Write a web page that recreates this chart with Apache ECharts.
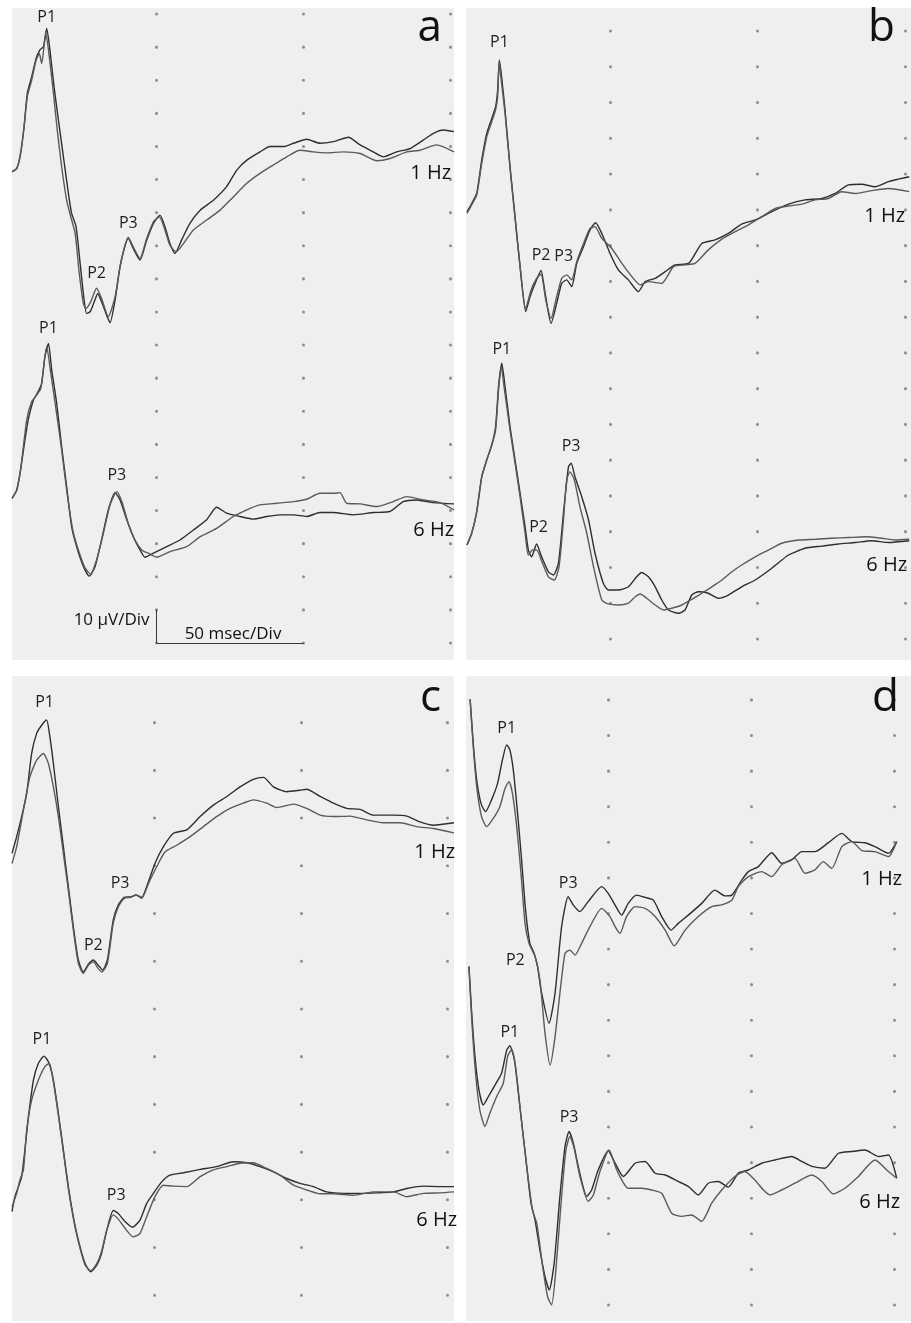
<!DOCTYPE html>
<html>
<head>
<meta charset="utf-8">
<script src="https://cdn.jsdelivr.net/npm/echarts@6/dist/echarts.min.js"></script>
<style>
html,body{margin:0;padding:0;background:#ffffff;}
#chart{width:911px;height:1323px;}
</style>
</head>
<body>
<div id="chart"></div>
<script>
// ===== DATA: [time (ms), amplitude (µV)] read from the recordings =====
// Panel a
const a1Hz_1 = [[0.7,0],[2.3,1.0],[3.6,5.5],[4.8,13.6],[5.9,23.7],[7.4,28.7],[8.9,34.2],[10.2,36.8],[11.4,37.8],[12.5,43.3],[13.6,36.8],[15.0,25.7],[16.5,15.6],[18.2,4.5],[19.9,-6.5],[21.0,-12.6],[22.5,-16.6],[23.9,-27.7],[25.0,-36.8],[26.1,-42.8],[27.3,-42.3],[28.7,-39.3],[29.9,-36.8],[31.2,-39.3],[32.7,-42.8],[34.1,-45.6],[35.8,-38.8],[37.5,-28.7],[38.9,-23.2],[40.3,-20.1],[42.0,-23.2],[44.3,-26.7],[46.6,-20.6],[48.9,-15.6],[51.1,-13.1],[52.8,-16.6],[54.5,-21.7],[56.2,-24.7],[58.5,-20.6],[61.3,-15.6],[64.8,-11.6],[69.3,-8.6],[73.8,-4.5],[77.3,0.5],[80.7,3.5],[85.2,6.0],[88.6,7.6],[93.2,7.6],[96.6,8.6],[101.1,9.8],[105.6,8.6],[110.2,9.1],[115.3,10.4],[119.3,8.1],[123.8,6.0],[127.2,4.5],[131.8,6.0],[136.3,7.0],[140.9,9.6],[144.3,11.6],[147.7,12.6],[151.3,12.1]];
const a1Hz_2 = [[0.7,0],[2.3,1.0],[3.6,5.5],[4.8,13.6],[5.9,22.7],[7.4,27.7],[8.9,33.7],[10.0,35.7],[10.8,32.7],[12.2,41.8],[13.4,34.7],[14.8,23.7],[16.1,12.6],[17.6,1.5],[19.3,-8.6],[20.7,-13.6],[22.2,-18.6],[23.6,-30.7],[25.0,-39.8],[25.9,-41.3],[27.5,-39.3],[29.5,-35.2],[31.2,-38.3],[33.5,-43.8],[35.8,-37.8],[37.5,-28.7],[40.3,-19.8],[42.0,-22.7],[44.3,-26.2],[46.6,-20.1],[48.9,-15.1],[50.9,-13.6],[52.8,-17.6],[54.5,-22.2],[56.6,-24.2],[59.1,-21.7],[62.5,-17.6],[67.0,-14.6],[71.6,-11.6],[76.1,-7.6],[80.7,-3.5],[85.2,-0.5],[89.7,2.0],[94.3,4.5],[98.8,6.5],[103.4,6.0],[107.9,5.7],[113.6,6.0],[119.3,5.5],[125.0,3.3],[129.5,4.0],[135.2,6.0],[139.7,6.5],[145.4,8.1],[151.3,6.0]];
const a6Hz_1 = [[0.7,0],[2.3,2.5],[3.6,8.6],[5.1,17.6],[6.2,23.7],[8.0,29.7],[9.6,32.2],[10.8,34.7],[11.9,42.8],[13.1,46.8],[14.2,38.8],[15.9,28.7],[17.6,15.6],[19.3,3.5],[21.0,-8.6],[22.7,-14.6],[25.0,-20.6],[27.0,-23.5],[29.0,-20.6],[31.2,-12.6],[33.5,-3.5],[35.8,1.7],[37.5,-0.5],[39.8,-6.5],[42.0,-11.6],[44.3,-15.6],[46.0,-17.8],[48.9,-16.6],[53.4,-14.6],[57.9,-12.6],[62.5,-9.6],[67.0,-6.5],[70.4,-2.7],[73.8,-4.5],[78.4,-5.5],[82.9,-6.3],[87.5,-5.5],[92.0,-5.0],[96.6,-5.0],[101.1,-5.5],[105.6,-4.3],[110.2,-4.3],[117.0,-5.0],[123.8,-4.3],[129.5,-4.0],[134.0,-1.0],[138.6,-0.5],[144.3,-1.3],[151.3,-1.7]];
const a6Hz_2 = [[0.7,0],[2.3,2.5],[3.6,8.6],[5.7,23.7],[7.4,29.2],[9.1,31.2],[10.5,33.2],[12.5,45.8],[13.9,37.8],[15.7,26.7],[17.6,14.6],[19.3,2.5],[21.4,-9.6],[23.3,-15.6],[25.6,-21.1],[27.5,-22.9],[29.5,-18.6],[31.8,-10.6],[34.1,-2.0],[36.4,2.0],[38.1,-1.0],[40.3,-7.6],[42.6,-12.6],[44.9,-15.6],[47.1,-16.6],[50.0,-17.8],[54.5,-16.1],[60.2,-14.6],[64.8,-11.6],[70.4,-9.1],[76.1,-5.5],[80.7,-3.5],[85.2,-2.0],[90.9,-1.5],[96.6,-1.0],[101.1,-0.3],[105.6,1.5],[110.2,1.5],[112.5,1.7],[114.7,-1.5],[119.3,-1.7],[125.0,-2.5],[130.6,-1.0],[135.2,0.5],[140.9,-0.5],[146.5,-1.3],[151.3,-3.5]];
// Panel b
const b1Hz_1 = [[1.5,0],[3.1,2.3],[4.8,5.1],[6.5,14.5],[8.2,21.9],[9.9,26.1],[11.2,29.4],[11.9,34.1],[12.5,42.5],[13.3,37.3],[14.4,28.5],[16.1,12.6],[17.8,-1.4],[19.5,-15.4],[21.4,-28.0],[22.9,-23.8],[25.1,-19.1],[26.6,-16.5],[28.0,-22.9],[30.0,-31.3],[31.9,-25.7],[33.6,-20.1],[35.3,-19.1],[37.0,-21.0],[38.7,-14.5],[41.0,-9.8],[43.2,-5.1],[45.1,-3.1],[47.2,-6.1],[50.0,-11.7],[52.8,-16.3],[56.2,-19.1],[59.6,-22.4],[61.9,-19.6],[65.3,-18.7],[68.7,-16.8],[72.0,-14.9],[76.6,-14.5],[81.1,-8.9],[85.6,-7.9],[90.1,-6.1],[94.6,-3.5],[99.2,-2.3],[104.8,0],[110.5,2.1],[116.1,3.3],[121.8,3.7],[126.3,5.1],[130.8,7.5],[135.3,7.7],[139.8,7.0],[144.4,8.4],[147.7,9.1],[151.4,9.8]];
const b1Hz_2 = [[1.5,-0.5],[3.1,1.9],[4.8,4.7],[6.5,13.5],[8.2,21.0],[9.9,25.2],[11.2,28.5],[11.9,32.2],[12.4,42.0],[13.1,36.9],[14.4,27.5],[16.1,12.1],[17.8,-1.9],[19.5,-15.4],[21.4,-27.1],[23.2,-22.0],[25.1,-18.7],[26.6,-17.5],[28.2,-24.7],[30.0,-29.9],[31.9,-23.8],[33.6,-18.7],[35.3,-17.7],[37.0,-19.1],[38.7,-14.0],[41.0,-8.9],[43.2,-4.7],[44.9,-4.2],[47.2,-7.5],[50.6,-10.3],[54.0,-14.5],[57.4,-18.2],[60.2,-20.5],[63.0,-19.6],[67.5,-20.1],[71.5,-15.4],[75.4,-14.9],[78.8,-14.5],[83.3,-10.7],[87.9,-7.7],[92.4,-5.6],[96.9,-3.7],[101.4,-1.4],[106.0,0.9],[110.5,1.6],[115.0,2.1],[119.5,3.3],[124.0,3.7],[128.5,5.6],[133.1,5.1],[138.7,5.9],[144.4,6.5],[151.4,5.6]];
const b6Hz_1 = [[1.5,0],[3.1,3.3],[4.8,9.3],[6.5,19.1],[8.2,23.8],[9.9,28.0],[11.2,33.1],[12.2,44.4],[13.3,50.9],[14.4,44.4],[16.1,33.1],[17.8,23.8],[19.5,14.5],[21.2,5.1],[22.3,-1.4],[23.4,-3.3],[25.1,0.3],[26.8,-3.3],[29.1,-7.5],[30.8,-8.4],[32.5,-5.1],[34.2,8.9],[35.9,21.9],[36.8,22.9],[38.1,19.1],[40.4,13.5],[42.7,7.0],[44.9,-2.3],[47.7,-10.7],[49.4,-12.6],[52.8,-12.6],[56.2,-11.7],[59.0,-8.9],[60.7,-7.7],[63.0,-8.9],[65.3,-11.7],[67.5,-15.4],[69.8,-18.2],[73.2,-19.1],[75.4,-18.2],[77.7,-14.0],[80.0,-13.1],[83.3,-13.5],[86.7,-14.9],[90.1,-14.0],[94.6,-11.7],[99.2,-9.8],[104.8,-6.5],[110.5,-2.8],[116.1,-0.9],[121.8,-0.3],[127.4,0.3],[133.1,0.7],[138.7,1.2],[144.4,0.7],[151.4,1.2]];
const b6Hz_2 = [[1.5,0],[3.1,3.3],[4.8,9.3],[6.5,19.1],[8.2,23.8],[9.9,28.0],[11.2,32.2],[12.2,43.4],[13.1,50.0],[14.2,43.5],[16.1,32.2],[17.8,22.9],[19.5,13.5],[21.2,3.3],[22.3,-2.8],[23.7,-1.4],[25.1,-1.4],[27.1,-5.1],[29.1,-8.9],[31.1,-9.8],[32.7,-6.1],[34.2,7.0],[35.3,18.2],[36.4,20.5],[37.9,18.2],[39.8,10.7],[42.1,3.3],[44.4,-6.1],[47.2,-15.4],[49.4,-16.5],[52.8,-16.8],[56.2,-16.3],[58.5,-14.5],[60.2,-13.7],[62.4,-14.9],[65.3,-16.8],[68.1,-18.2],[70.9,-17.7],[74.3,-16.8],[77.7,-15.2],[81.1,-13.5],[84.5,-11.7],[87.9,-9.8],[91.3,-7.5],[94.6,-5.6],[99.2,-3.3],[103.7,-1.4],[108.2,0.5],[113.9,1.4],[119.5,1.6],[125.2,1.9],[130.8,2.1],[136.4,2.3],[142.1,1.9],[146.6,1.4],[151.4,1.6]];
// Panel c
const c1Hz_1 = [[1.6,0.7],[3.2,4.2],[4.9,8.4],[6.6,13.2],[8.3,21.6],[10.0,25.8],[11.7,27.5],[13.4,28.6],[14.5,25.1],[15.7,19.5],[17.4,10.5],[19.1,2.1],[20.8,-6.3],[22.5,-14.6],[24.2,-21.6],[25.9,-24.1],[27.6,-22.5],[29.3,-21.6],[31.0,-22.7],[32.5,-23.7],[34.1,-21.6],[36.1,-13.2],[37.8,-10.1],[39.8,-8.5],[42.0,-8.4],[43.9,-8.0],[45.8,-8.5],[48.1,-5.2],[50.3,-1.4],[53.2,2.1],[56.6,4.9],[61.1,5.6],[65.7,8.4],[70.2,10.8],[74.8,12.6],[79.3,14.6],[83.8,16.2],[87.3,16.6],[90.7,14.6],[95.2,13.6],[99.7,13.9],[102.0,14.1],[106.6,12.6],[111.1,11.2],[115.7,10.1],[120.2,9.9],[124.7,8.7],[131.6,8.7],[136.1,8.5],[140.6,7.3],[145.2,6.6],[152.2,7.1]];
const c1Hz_2 = [[1.6,-1.4],[3.2,2.1],[5.5,9.8],[7.7,16.7],[10.0,20.2],[12.3,21.6],[14.0,19.5],[15.7,14.6],[17.4,8.4],[19.1,0.7],[20.8,-7.0],[22.5,-15.3],[24.2,-22.3],[25.9,-24.4],[27.6,-22.7],[29.3,-22.0],[31.0,-23.4],[32.2,-24.1],[34.1,-22.3],[36.1,-13.9],[37.8,-10.5],[39.8,-8.7],[42.0,-8.5],[43.9,-8.0],[45.8,-8.7],[48.1,-5.6],[50.9,-2.1],[53.7,1.0],[57.7,2.4],[62.3,4.2],[66.8,6.3],[71.3,8.4],[75.9,10.1],[80.4,11.2],[83.8,11.9],[88.4,11.2],[91.8,10.3],[97.5,11.0],[102.0,10.1],[106.6,8.7],[111.1,8.4],[116.8,8.5],[122.5,7.7],[128.1,7.1],[133.8,7.1],[139.5,6.3],[145.2,5.9],[152.2,5.0]];
const c6Hz_1 = [[1.6,-1.7],[2.6,1.4],[3.8,3.5],[4.9,5.6],[6.0,11.2],[7.2,18.1],[8.9,25.8],[10.6,29.3],[12.5,30.8],[14.0,29.6],[15.7,25.8],[17.4,18.8],[19.1,11.2],[20.8,3.5],[22.5,-2.8],[24.2,-7.7],[26.5,-12.6],[28.4,-14.3],[30.5,-12.9],[32.1,-10.5],[33.9,-5.6],[36.1,-1.5],[37.8,-2.1],[40.1,-3.8],[42.7,-5.0],[45.2,-3.5],[47.5,0],[49.8,2.1],[52.6,4.5],[55.4,5.9],[60.0,6.4],[65.7,7.1],[71.3,7.7],[77.0,8.7],[81.6,8.5],[86.1,7.7],[90.7,6.6],[95.2,5.2],[99.7,4.2],[104.3,3.5],[108.8,2.4],[114.5,2.1],[120.2,2.1],[125.9,2.2],[131.6,2.4],[136.1,3.1],[141.8,3.6],[147.5,3.5],[152.2,3.5]];
const c6Hz_2 = [[1.6,-0.7],[3.2,2.1],[4.3,4.9],[5.5,7.0],[6.6,15.3],[8.3,21.6],[10.6,25.8],[12.8,28.6],[14.3,29.3],[15.7,25.4],[17.4,18.4],[19.1,10.8],[20.8,3.1],[22.5,-3.1],[24.2,-8.0],[26.5,-12.9],[28.4,-14.1],[30.5,-12.6],[32.1,-10.1],[33.9,-5.6],[36.1,-2.4],[37.8,-3.3],[40.1,-5.2],[42.9,-7.0],[45.2,-6.3],[47.5,-2.8],[50.3,1.4],[53.2,3.8],[56.6,3.6],[61.1,3.5],[65.7,5.6],[70.2,7.0],[74.8,7.7],[79.3,8.4],[83.8,8.5],[88.4,7.3],[92.9,5.9],[97.5,3.8],[102.0,2.8],[106.6,2.0],[111.1,2.0],[117.9,1.7],[124.7,2.4],[131.6,2.4],[136.1,1.4],[141.8,2.1],[147.5,2.2],[152.2,2.4]];
// Panel d
const d1Hz_1 = [[1.7,40.1],[2.8,27.7],[4.0,17.5],[5.5,10.9],[7.1,8.6],[9.2,11.9],[11.3,16.5],[13.0,23.1],[14.5,27.3],[15.6,25.9],[16.8,20.3],[18.3,8.1],[19.7,-4.9],[21.1,-19.0],[22.6,-28.3],[24.1,-31.1],[25.3,-34.8],[26.5,-41.4],[29.3,-50.7],[31.4,-42.3],[33.7,-23.6],[36.0,-15.2],[37.8,-17.6],[40.1,-19.4],[43.0,-16.6],[47.7,-12.4],[50.0,-14.3],[52.4,-17.6],[54.7,-20.4],[57.0,-17.1],[59.9,-14.8],[62.9,-15.4],[65.8,-16.2],[68.7,-20.8],[72.0,-24.6],[74.5,-22.7],[78.0,-20.4],[82.7,-17.1],[87.3,-13.4],[90.9,-15.0],[93.2,-14.8],[96.7,-10.6],[99.0,-8.2],[102.5,-6.8],[107.2,-2.9],[110.7,-5.9],[114.2,-4.9],[117.7,-2.6],[122.3,-2.6],[127.0,-0.1],[131.7,2.5],[135.2,0.2],[139.8,-0.1],[143.3,-1.2],[148.0,-3.1],[150.9,0.2]];
const d1Hz_2 = [[1.7,40.1],[2.8,26.8],[4.0,15.6],[5.7,7.2],[7.5,4.4],[9.8,6.7],[12.1,10.0],[13.9,15.1],[15.3,17.0],[16.5,13.7],[18.0,4.4],[19.5,-8.7],[20.9,-22.7],[22.3,-28.3],[24.4,-32.0],[26.1,-38.5],[27.9,-53.5],[29.7,-62.4],[31.4,-54.5],[33.1,-42.3],[34.9,-31.1],[36.6,-30.2],[38.4,-31.6],[40.7,-28.3],[43.6,-23.6],[47.7,-18.5],[50.6,-20.8],[52.4,-23.6],[54.1,-25.5],[56.4,-20.8],[59.4,-18.0],[62.9,-18.5],[66.4,-20.8],[69.9,-24.6],[73.1,-29.0],[76.9,-24.6],[81.5,-20.8],[86.2,-18.0],[89.7,-17.5],[93.2,-16.2],[95.5,-12.4],[99.0,-9.6],[103.7,-8.2],[107.2,-9.6],[110.7,-6.3],[115.3,-4.5],[118.8,-8.7],[122.3,-7.7],[125.2,-5.4],[128.2,-7.3],[131.7,-1.2],[135.2,0.2],[138.7,-2.3],[143.3,-2.6],[148.0,-4.0],[150.9,0.2]];
const d6Hz_1 = [[1.3,55.2],[2.2,43.0],[3.4,30.0],[4.8,20.6],[6.3,16.4],[8.1,18.8],[10.4,22.0],[12.7,25.3],[14.5,31.8],[15.6,33.0],[17.2,29.0],[19.1,16.0],[21.1,2.0],[23.0,-11.1],[24.4,-15.8],[26.1,-24.2],[27.9,-31.7],[29.4,-35.4],[31.1,-27.9],[33.1,-9.2],[34.9,4.8],[36.3,9.0],[37.8,5.7],[39.8,-1.8],[42.5,-9.2],[44.2,-7.4],[46.5,-1.8],[50.0,3.6],[52.4,0.1],[55.3,-3.6],[59.4,0.1],[62.9,0.6],[66.4,-2.7],[69.9,-3.2],[74.5,-5.0],[78.0,-6.4],[81.5,-8.8],[85.0,-5.5],[88.5,-5.0],[92.0,-6.6],[95.5,-2.7],[99.0,-1.8],[103.7,0.1],[108.3,1.0],[114.2,2.0],[117.7,0.6],[121.2,-0.8],[125.8,-1.3],[130.5,2.9],[135.2,3.4],[139.8,3.8],[144.5,2.0],[148.0,2.4],[150.9,-4.1]];
const d6Hz_2 = [[1.3,55.2],[2.2,41.2],[3.6,25.3],[5.1,15.0],[6.9,10.4],[8.6,14.1],[11.0,18.8],[13.3,22.5],[14.8,30.0],[16.2,32.0],[17.6,27.2],[19.5,13.2],[21.5,-0.8],[23.5,-13.0],[25.0,-16.7],[26.9,-27.9],[28.8,-37.3],[30.2,-39.6],[31.6,-30.7],[33.5,-11.1],[35.2,3.8],[36.6,7.6],[38.1,4.3],[40.1,-3.6],[43.0,-10.6],[44.8,-8.8],[47.1,-2.2],[50.3,3.8],[53.0,-1.8],[57.0,-6.9],[61.7,-6.9],[65.2,-7.4],[68.7,-8.3],[72.2,-13.9],[75.7,-14.8],[79.2,-14.4],[82.7,-16.2],[86.2,-11.1],[89.7,-7.4],[94.3,-3.6],[97.8,-2.2],[101.3,-4.6],[104.3,-7.4],[106.6,-8.8],[110.7,-7.4],[115.3,-5.5],[121.2,-3.2],[124.7,-5.0],[128.7,-8.5],[132.8,-6.9],[137.5,-3.6],[143.3,1.0],[148.0,-2.2],[150.9,-4.1]];

// Peak annotations: [label, time (ms), amplitude (µV)]
const a1Hz_peaks = [['P1',12.5,43.3],['P2',29.5,-35.2],['P3',40.3,-20.1]];
const a6Hz_peaks = [['P1',13.1,46.8],['P3',36.4,2.0]];
const b1Hz_peaks = [['P1',12.5,42.5],['P2',26.6,-16.5],['P3',35.3,-17.7]];
const b6Hz_peaks = [['P1',13.3,50.9],['P2',25.1,0.3],['P3',36.8,22.9]];
const c1Hz_peaks = [['P1',13.4,28.6],['P2',29.3,-21.6],['P3',39.8,-8.5]];
const c6Hz_peaks = [['P1',12.5,30.8],['P3',36.1,-1.5]];
const d1Hz_peaks = [['P1',14.5,27.3],['P2',23.4,-33.2],['P3',36.0,-15.2]];
const d6Hz_peaks = [['P1',15.6,33.0],['P3',36.3,9.0]];

// Text
const PANEL_LETTERS = ['a','b','c','d'];
const FREQ_LABELS = ['1 Hz','6 Hz'];
const GRID_TIMES = [50,100,150];            // ms, dotted division columns
const SCALE_BAR = {t0:50, t1:100, v0:-43.7, dv:10};
const SCALE_TEXT = ['10 µV/Div','50 msec/Div'];

// ===== LAYOUT (pixel geometry of the four panels) =====
const FONT = '"Open Sans", "Noto Sans", sans-serif';
const panels = [
  {grid:{left:12,top:8,width:442,height:652}, x:[0.68,151.3], y1:[-147.5,49.46], y6:[-48.85,148.1], dot:{gap:33.1, off:16.1},
   tr1:[a1Hz_1,a1Hz_2], tr6:[a6Hz_1,a6Hz_2], pk1:a1Hz_peaks, pk6:a6Hz_peaks,
   pk1Style:[{d:2},{d:6},{d:6}], pk6Style:[{d:6},{d:8}],
   letter:[442,28.8], f1:[451,173.4], f6:[454,530], scale:true},
  {grid:{left:466,top:8,width:445,height:652}, x:[1.17,152.0], y1:[-125.6,57.06], y6:[-32.2,150.4], dot:{gap:35.76, off:14.76},
   tr1:[b1Hz_1,b1Hz_2], tr6:[b6Hz_1,b6Hz_2], pk1:b1Hz_peaks, pk6:b6Hz_peaks,
   pk1Style:[{d:9},{d:7},{d:10,ox:-3}], pk6Style:[{d:5},{d:8,ox:2},{d:8}],
   letter:[895,28.8], f1:[905,216], f6:[907,565]},
  {grid:{left:12,top:676,width:442,height:645}, x:[1.6,152.2], y1:[-97.1,37.8], y6:[-24.6,110.3], dot:{gap:47.72, off:22.02},
   tr1:[c1Hz_1,c1Hz_2], tr6:[c6Hz_1,c6Hz_2], pk1:c1Hz_peaks, pk6:c6Hz_peaks,
   pk1Style:[{d:9,ox:-2},{d:6},{d:5,ox:-4}], pk6Style:[{d:8,ox:-2},{d:7,ox:3}],
   letter:[441,698.5], f1:[455,852.7], f6:[457,1220]},
  {grid:{left:466,top:676,width:445,height:645}, x:[0.26,155.9], y1:[-134.1,46.6], y6:[-44.1,136.6], dot:{gap:35.59, off:19.59},
   tr1:[d1Hz_1,d1Hz_2], tr6:[d6Hz_1,d6Hz_2], pk1:d1Hz_peaks, pk6:d6Hz_peaks,
   pk1Style:[{d:8},{d:7,pos:'left'},{d:5}], pk6Style:[{d:5},{d:6}],
   letter:[899,698.5], f1:[902,879], f6:[900,1202.4]}
];

const TRACE_COLORS = ['#2e2e2e','#5a5a5a'];

const grids = [], xAxes = [], yAxes = [], series = [], graphics = [];

function peakMarks(peaks, styles){
  return {
    silent:true, animation:false, symbol:'circle', symbolSize:1,
    itemStyle:{color:'rgba(0,0,0,0)'},
    label:{show:true, formatter:'{b}', fontFamily:FONT, fontSize:16, color:'#1e1e1e'},
    data: peaks.map(([name,t,v],i)=>{
      const s = styles[i] || {};
      return {name, coord:[t,v], label:{position:s.pos||'top', distance:s.d||6, offset:[s.ox||0, s.oy||0]}};
    })
  };
}

panels.forEach((p,i)=>{
  grids.push(Object.assign({show:true, backgroundColor:'#efefef', borderWidth:0, containLabel:false}, p.grid));
  xAxes.push({type:'value', gridIndex:i, min:p.x[0], max:p.x[1], show:false});
  yAxes.push({type:'value', gridIndex:i, min:p.y1[0], max:p.y1[1], show:false});
  yAxes.push({type:'value', gridIndex:i, min:p.y6[0], max:p.y6[1], show:false});
  const base = {type:'line', xAxisIndex:i, showSymbol:false, symbol:'none', smooth:0.2, animation:false, silent:true, z:3};
  p.tr1.forEach((d,k)=>{
    const s = Object.assign({}, base, {yAxisIndex:2*i, data:d, lineStyle:{color:TRACE_COLORS[k], width:1.4}});
    if(k===0){
      s.markLine = {
        silent:true, animation:false, symbol:['none','none'], label:{show:false}, z:1,
        lineStyle:{color:'#8e8e8e', width:3, type:[0.1, p.dot.gap-0.1], dashOffset:p.dot.off, cap:'round'},
        data: GRID_TIMES.map(t=>[{coord:[t,p.y1[0]]},{coord:[t,p.y1[1]]}])
      };
      s.markPoint = peakMarks(p.pk1, p.pk1Style);
    }
    series.push(s);
  });
  p.tr6.forEach((d,k)=>{
    const s = Object.assign({}, base, {yAxisIndex:2*i+1, data:d, lineStyle:{color:TRACE_COLORS[k], width:1.4}});
    if(k===0){
      s.markPoint = peakMarks(p.pk6, p.pk6Style);
      if(p.scale){
        const b = SCALE_BAR;
        s.markLine = {
          silent:true, animation:false, symbol:['none','none'], label:{show:false},
          lineStyle:{color:'#3a3a3a', width:1, type:'solid'},
          data:[[{coord:[b.t0,b.v0]},{coord:[b.t0,b.v0+b.dv]}],[{coord:[b.t0,b.v0]},{coord:[b.t1,b.v0]}]]
        };
      }
    }
    series.push(s);
  });
  graphics.push({type:'text', x:p.letter[0], y:p.letter[1], z:10,
    style:{text:PANEL_LETTERS[i], font:'44px '+FONT, fill:'#111', textAlign:'right', textVerticalAlign:'middle', align:'right', verticalAlign:'middle'}});
  graphics.push({type:'text', x:p.f1[0], y:p.f1[1], z:10,
    style:{text:FREQ_LABELS[0], font:'20px '+FONT, fill:'#111', textAlign:'right', textVerticalAlign:'middle', align:'right', verticalAlign:'middle'}});
  graphics.push({type:'text', x:p.f6[0], y:p.f6[1], z:10,
    style:{text:FREQ_LABELS[1], font:'20px '+FONT, fill:'#111', textAlign:'right', textVerticalAlign:'middle', align:'right', verticalAlign:'middle'}});
  if(p.scale){
    graphics.push({type:'text', x:149.5, y:620.4, z:10,
      style:{text:SCALE_TEXT[0], font:'17px '+FONT, fill:'#111', textAlign:'right', textVerticalAlign:'middle', align:'right', verticalAlign:'middle'}});
    graphics.push({type:'text', x:233, y:634.4, z:10,
      style:{text:SCALE_TEXT[1], font:'17px '+FONT, fill:'#111', textAlign:'center', textVerticalAlign:'middle', align:'center', verticalAlign:'middle'}});
  }
});

const chart = echarts.init(document.getElementById('chart'), null, {renderer:'canvas'});
chart.setOption({
  backgroundColor:'#ffffff',
  animation:false,
  grid:grids, xAxis:xAxes, yAxis:yAxes, series:series, graphic:graphics
});
</script>
</body>
</html>
